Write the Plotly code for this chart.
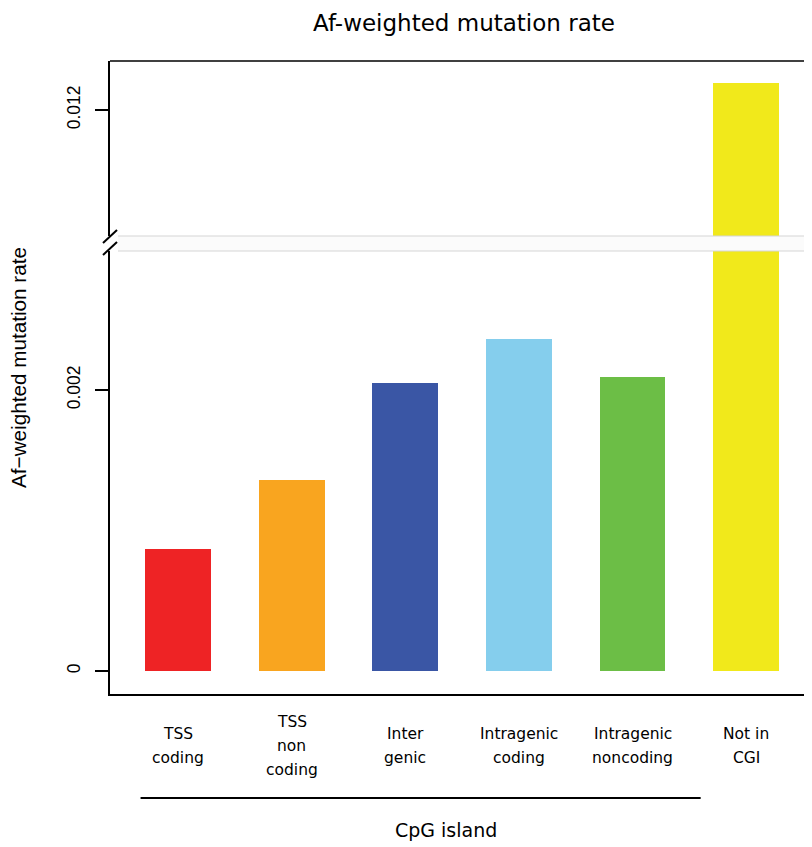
import plotly.graph_objects as go

# ---------------- data ----------------
categories = ["TSS coding", "TSS non coding", "Inter genic",
              "Intragenic coding", "Intragenic noncoding", "Not in CGI"]
label_lines = [["TSS", "coding"], ["TSS", "non", "coding"], ["Inter", "genic"],
               ["Intragenic", "coding"], ["Intragenic", "noncoding"], ["Not in", "CGI"]]
values = [0.00087, 0.00136, 0.00205, 0.00236, 0.00209, 0.01219]
colors = ["#EE2325", "#F9A51F", "#3A56A5", "#85CEED", "#6CBE46", "#F1E91B"]
lower_ticks = [0, 0.002]
lower_ticktext = ["0", "0.002"]
upper_ticks = [0.012]
upper_ticktext = ["0.012"]
group_label = "CpG island"
group_members = categories[:5]
title = "Af-weighted mutation rate"
ytitle = "Af\u2212weighted mutation rate"

# ---------------- layout helpers ----------------
OFF = 8  # page body margin
W, H = 812 - OFF, 847 - OFF
L, T = 110 - OFF, 61 - OFF
R = 0
B = H - (694 - OFF)
PW, PH = W - L - R, H - T - B


def px(x):
    """screen x -> paper x"""
    return (x - OFF - L) / PW


def py(y):
    """screen y -> paper y"""
    return (H - B - (y - OFF)) / PH


lower_dom = [0, py(251)]
upper_dom = [py(236), 1]

fig = go.Figure()
for yax in ["y", "y2"]:
    fig.add_trace(go.Bar(
        x=categories, y=values, marker=dict(color=colors, line=dict(width=0)),
        width=0.58, xaxis="x", yaxis=yax, showlegend=False, hoverinfo="x+y"))

axis_common = dict(showline=True, linecolor="black", linewidth=1.5,
                   ticks="outside", ticklen=13, tickwidth=1.5, tickcolor="black",
                   showgrid=False, zeroline=False, tickangle=-90,
                   tickfont=dict(family="Liberation Sans", size=17.5, color="black"),
                   ticklabelstandoff=8, anchor="x")

fig.update_layout(
    width=W, height=H,
    margin=dict(l=L, r=R, t=T, b=B, pad=0),
    paper_bgcolor="white", plot_bgcolor="white",
    showlegend=False, bargap=0,
    title=dict(text=title, x=(464 - OFF) / W, xanchor="center",
               y=1 - (23 - OFF) / H, yanchor="middle",
               font=dict(family="DejaVu Sans", size=23, color="black")),
    xaxis=dict(type="category", categoryorder="array", categoryarray=categories,
               range=[-0.599, 5.58], showticklabels=False, ticks="",
               showline=True, linecolor="black", linewidth=1.5,
               showgrid=False, zeroline=False, anchor="y"),
    yaxis=dict(domain=lower_dom, range=[-0.0001637, 0.0029893],
               tickvals=lower_ticks, ticktext=lower_ticktext, **axis_common),
    yaxis2=dict(domain=upper_dom, range=[0.011103, 0.012349],
                tickvals=upper_ticks, ticktext=upper_ticktext, **axis_common),
)

shapes = []
# top frame line
shapes.append(dict(type="line", xref="paper", yref="paper", x0=0, x1=1.02, y0=1, y1=1,
                   line=dict(color="black", width=1.5)))
# gap band
shapes.append(dict(type="rect", xref="paper", yref="paper", x0=px(118), x1=1.02,
                   y0=py(251), y1=py(236), fillcolor="#fbfbfb", line=dict(width=0)))
for yy in (236, 251):
    shapes.append(dict(type="line", xref="paper", yref="paper", x0=px(118), x1=1.02,
                       y0=py(yy), y1=py(yy), line=dict(color="#d6d6d6", width=1.2)))
# break slashes (left and right frame)
for cx in (110, 817):
    for cy in (236.5, 248.5):
        shapes.append(dict(type="line", xref="paper", yref="paper",
                           x0=px(cx - 7), x1=px(cx + 7), y0=py(cy + 6.5), y1=py(cy - 6.5),
                           line=dict(color="black", width=2)))
# group underline
shapes.append(dict(type="line", xref="x", yref="paper", x0=-0.33, x1=4.6,
                   y0=py(798), y1=py(798), line=dict(color="black", width=1.8)))
fig.update_layout(shapes=shapes)

annotations = []
line_gap = 24
for cat, lines in zip(categories, label_lines):
    n = len(lines)
    for i, t in enumerate(lines):
        yy = 746 + (i - (n - 1) / 2) * line_gap
        annotations.append(dict(x=cat, xref="x", y=py(yy), yref="paper", text=t,
                                showarrow=False, xanchor="center", yanchor="middle",
                                font=dict(family="DejaVu Sans", size=15.5, color="black")))
annotations.append(dict(x=(categories.index(group_members[0]) + categories.index(group_members[-1])) / 2 + 0.36,
                        xref="x", y=py(830), yref="paper", text=group_label,
                        showarrow=False, xanchor="center", yanchor="middle",
                        font=dict(family="DejaVu Sans", size=19, color="black")))
annotations.append(dict(x=px(18), xref="paper", y=py(368), yref="paper", text=ytitle,
                        textangle=-90, showarrow=False, xanchor="center", yanchor="middle",
                        font=dict(family="Liberation Sans", size=20.7, color="black")))
fig.update_layout(annotations=annotations)

fig.write_html("out.html")
